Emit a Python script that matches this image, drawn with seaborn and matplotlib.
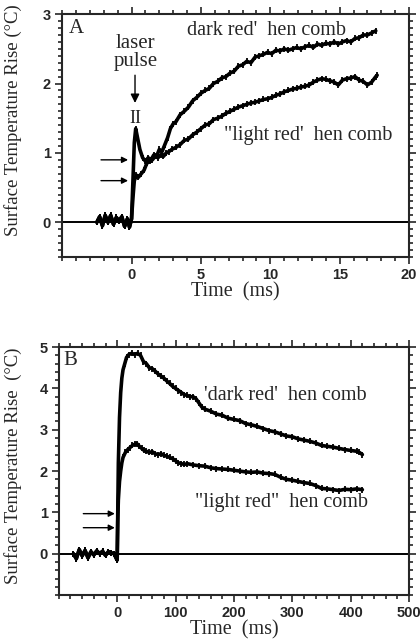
import numpy as np
import pandas as pd
import matplotlib
matplotlib.use("Agg")
import matplotlib.pyplot as plt
from matplotlib.ticker import MultipleLocator
import seaborn as sns

# ---- Panel A: time in ms, temperature rise in degC ----
a_base_t = [-2.5, -2.3, -2.1, -1.9, -1.7, -1.5, -1.3, -1.1, -0.9, -0.7, -0.5, -0.3, -0.15, 0.0]
a_base_y = [0.0, 0.08, -0.05, 0.1, 0.0, 0.1, -0.03, 0.07, 0.02, 0.08, -0.06, 0.05, -0.07, 0.05]

a_dark_t = [0.1, 0.2, 0.3, 0.45, 0.6, 0.8, 1.0, 1.2, 1.4, 1.6, 1.8, 2.0, 2.2, 2.4, 2.6, 2.8,
            3.0, 3.2, 3.5, 3.8, 4.1, 4.4, 4.7, 5.0, 5.3, 5.6, 5.9, 6.2, 6.5, 6.8, 7.1, 7.4,
            7.7, 8.0, 8.3, 8.6, 8.9, 9.2, 9.5, 9.8, 10.1, 10.4, 10.7, 11.0, 11.3, 11.6, 11.9,
            12.2, 12.5, 12.8, 13.1, 13.4, 13.7, 14.0, 14.3, 14.6, 14.9, 15.2, 15.5, 15.8,
            16.1, 16.4, 16.7, 17.0, 17.3, 17.6]
a_dark_y = [0.6, 1.15, 1.35, 1.2, 1.05, 0.93, 0.88, 0.93, 0.9, 0.97, 0.95, 1.05, 1.02, 1.12,
            1.22, 1.35, 1.42, 1.45, 1.55, 1.6, 1.66, 1.75, 1.8, 1.86, 1.9, 1.93, 2.0, 2.03,
            2.08, 2.1, 2.15, 2.18, 2.25, 2.27, 2.32, 2.3, 2.38, 2.4, 2.42, 2.45, 2.43, 2.48,
            2.47, 2.5, 2.48, 2.5, 2.52, 2.5, 2.53, 2.55, 2.52, 2.57, 2.55, 2.58, 2.57, 2.6,
            2.57, 2.6, 2.62, 2.6, 2.65, 2.66, 2.7, 2.7, 2.73, 2.76]

a_light_t = [0.1, 0.2, 0.35, 0.5, 0.7, 0.9, 1.1, 1.3, 1.5, 1.7, 1.9, 2.1, 2.3, 2.5, 2.7, 2.9,
             3.2, 3.5, 3.8, 4.1, 4.4, 4.7, 5.0, 5.3, 5.6, 5.9, 6.2, 6.5, 6.8, 7.1, 7.4, 7.7,
             8.0, 8.3, 8.6, 8.9, 9.2, 9.5, 9.8, 10.1, 10.4, 10.7, 11.0, 11.3, 11.6, 11.9,
             12.2, 12.5, 12.8, 13.1, 13.4, 13.7, 14.0, 14.3, 14.6, 14.9, 15.2, 15.5, 15.8,
             16.1, 16.4, 16.7, 17.0, 17.3, 17.6, 17.7]
a_light_y = [0.35, 0.6, 0.68, 0.65, 0.7, 0.75, 0.85, 0.88, 0.9, 0.95, 0.93, 0.97, 0.95, 1.0,
             1.02, 1.05, 1.08, 1.12, 1.18, 1.2, 1.26, 1.3, 1.35, 1.4, 1.42, 1.48, 1.5, 1.53,
             1.57, 1.6, 1.63, 1.66, 1.68, 1.7, 1.72, 1.73, 1.75, 1.77, 1.78, 1.8, 1.83, 1.85,
             1.88, 1.9, 1.92, 1.93, 1.95, 1.96, 1.98, 2.02, 2.05, 2.07, 2.06, 2.04, 2.02, 1.98,
             2.05, 2.07, 2.08, 2.1, 2.05, 2.03, 1.98, 2.02, 2.1, 2.12]

# ---- Panel B: time in ms, temperature rise in degC ----
b_base_t = [-75, -70, -65, -60, -55, -50, -45, -40, -35, -30, -25, -20, -15, -10, -5, -2, 0]
b_base_y = [0.0, -0.12, 0.1, -0.05, 0.08, -0.1, 0.05, -0.03, 0.07, 0.0, 0.06, -0.04, 0.05,
            0.02, 0.0, -0.1, -0.15]

b_dark_t = [1, 2, 4, 6, 8, 10, 13, 16, 20, 25, 30, 35, 40, 45, 50, 55, 60, 65, 70, 75, 80, 85,
            90, 95, 100, 105, 110, 115, 120, 125, 130, 135, 140, 145, 150, 160, 170, 180, 190,
            200, 210, 220, 230, 240, 250, 260, 270, 280, 290, 300, 310, 320, 330, 340, 350,
            360, 370, 380, 390, 400, 410, 415, 420]
b_dark_y = [1.0, 2.2, 3.3, 3.9, 4.25, 4.45, 4.6, 4.75, 4.82, 4.85, 4.82, 4.85, 4.8, 4.65, 4.6,
            4.5, 4.48, 4.42, 4.35, 4.3, 4.25, 4.18, 4.12, 4.05, 4.0, 3.95, 3.9, 3.85, 3.83, 3.8,
            3.8, 3.75, 3.65, 3.55, 3.5, 3.45, 3.38, 3.35, 3.28, 3.25, 3.22, 3.15, 3.12, 3.08,
            3.03, 2.98, 2.95, 2.9, 2.85, 2.83, 2.78, 2.75, 2.72, 2.68, 2.62, 2.6, 2.58, 2.55,
            2.52, 2.5, 2.48, 2.45, 2.4]

b_light_t = [1, 2, 4, 6, 8, 10, 14, 18, 22, 26, 30, 34, 38, 42, 46, 50, 55, 60, 65, 70, 75, 80,
             85, 90, 95, 100, 105, 110, 115, 120, 130, 140, 150, 160, 170, 180, 190, 200, 210,
             220, 230, 240, 250, 260, 270, 280, 290, 300, 310, 320, 330, 340, 350, 360, 370,
             380, 390, 400, 410, 420]
b_light_y = [0.8, 1.3, 1.75, 2.0, 2.2, 2.33, 2.45, 2.52, 2.57, 2.62, 2.65, 2.66, 2.6, 2.55, 2.5,
             2.48, 2.45, 2.47, 2.42, 2.4, 2.42, 2.38, 2.36, 2.33, 2.3, 2.25, 2.2, 2.18, 2.16,
             2.18, 2.15, 2.13, 2.12, 2.08, 2.06, 2.05, 2.04, 2.02, 2.0, 1.98, 1.97, 1.98, 1.95,
             1.94, 1.92, 1.85, 1.8, 1.78, 1.75, 1.72, 1.7, 1.65, 1.58, 1.57, 1.55, 1.53, 1.56,
             1.55, 1.57, 1.55]

a_xticks = [0, 5, 10, 15, 20]
a_yticks = [0, 1, 2, 3]
b_xticks = [0, 100, 200, 300, 400, 500]
b_yticks = [0, 1, 2, 3, 4, 5]

sns.set_style("ticks")
plt.rcParams["font.family"] = ["Liberation Serif", "DejaVu Serif"]

SERIF = ["Liberation Serif", "DejaVu Serif"]
SANS = ["Liberation Sans", "DejaVu Sans"]
LW = 2.6
NOTE = 14.5


def trace(ax, base_t, base_y, t, y):
    df = pd.DataFrame({"t": base_t + t, "y": base_y + y})
    sns.lineplot(data=df, x="t", y="y", ax=ax, color="black", lw=LW,
                 estimator=None, sort=False, marker="|", markersize=5,
                 markeredgewidth=1.3, markeredgecolor="black")


def style_axes(ax, xticks, xmin, yticks, ymin):
    ax.axhline(0, color="black", lw=1.4, zorder=1)
    ax.set_xticks(xticks)
    ax.set_yticks(yticks)
    ax.xaxis.set_minor_locator(MultipleLocator(xmin))
    ax.yaxis.set_minor_locator(MultipleLocator(ymin))
    ax.tick_params(which="both", top=True, right=True, direction="out", width=1.2)
    ax.tick_params(which="major", length=5, labelsize=10.5, pad=3)
    ax.tick_params(which="minor", length=3)
    ax.tick_params(labeltop=False, labelright=False)
    for lab in ax.get_xticklabels() + ax.get_yticklabels():
        lab.set_family(SANS)
        lab.set_fontweight("bold")
    for sp in ax.spines.values():
        sp.set_linewidth(1.5)
    ax.set_xlabel("Time  (ms)", family=SERIF, fontsize=14.5, labelpad=0)


def arrow(ax, tail, tip, scale=9):
    ax.annotate("", xy=tip, xytext=tail,
                arrowprops=dict(arrowstyle="-|>", color="black", lw=1.0,
                                mutation_scale=scale, shrinkA=0, shrinkB=0))


fig = plt.figure(figsize=(4.2, 6.44), dpi=100)

# ---------------- Panel A ----------------
ax1 = fig.add_axes([0.148, 0.601, 0.826, 0.377])
trace(ax1, a_base_t, a_base_y, a_dark_t, a_dark_y)
trace(ax1, a_base_t, a_base_y, a_light_t, a_light_y)
ax1.set_xlim(-5, 20)
ax1.set_ylim(-0.5, 3)
style_axes(ax1, a_xticks, 1, a_yticks, 0.1)
ax1.set_ylabel("Surface Temperature Rise (\u00b0C)", family=SERIF, fontsize=13.5)
ax1.yaxis.set_label_coords(-0.115, 0.565)

ax1.text(-4.5, 2.8, "A", family=SERIF, fontsize=15, va="center", ha="left")
ax1.text(0.3, 2.45, "laser\npulse", family=SERIF, fontsize=15, ha="center", va="center",
         linespacing=0.9)
arrow(ax1, (0.25, 2.12), (0.25, 1.72), scale=13)
ax1.text(0.25, 1.5, "II", family=SERIF, fontsize=13, ha="center", va="center")
ax1.text(9.7, 2.77, "dark red'  hen comb", family=SERIF, fontsize=NOTE,
         ha="center", va="center")
ax1.text(12.7, 1.25, "\"light red'  hen comb", family=SERIF, fontsize=NOTE,
         ha="center", va="center")
arrow(ax1, (-2.2, 0.9), (-0.25, 0.9))
arrow(ax1, (-2.2, 0.6), (-0.25, 0.6))

# ---------------- Panel B ----------------
ax2 = fig.add_axes([0.140, 0.076, 0.834, 0.385])
trace(ax2, b_base_t, b_base_y, b_dark_t, b_dark_y)
trace(ax2, b_base_t, b_base_y, b_light_t, b_light_y)
ax2.set_xlim(-100, 500)
ax2.set_ylim(-1, 5)
style_axes(ax2, b_xticks, 20, b_yticks, 0.2)
ax2.set_ylabel("Surface Temperature Rise  (\u00b0C)", family=SERIF, fontsize=13.5)
ax2.yaxis.set_label_coords(-0.106, 0.52)

ax2.text(-92, 4.68, "B", family=SERIF, fontsize=15, va="center", ha="left")
ax2.text(288, 3.83, "'dark red'  hen comb", family=SERIF, fontsize=NOTE,
         ha="center", va="center")
ax2.text(282, 1.24, "\"light red\"  hen comb", family=SERIF, fontsize=NOTE,
         ha="center", va="center")
arrow(ax2, (-58, 0.97), (-4, 0.97))
arrow(ax2, (-58, 0.63), (-4, 0.63))

fig.savefig("out.png", dpi=100)
